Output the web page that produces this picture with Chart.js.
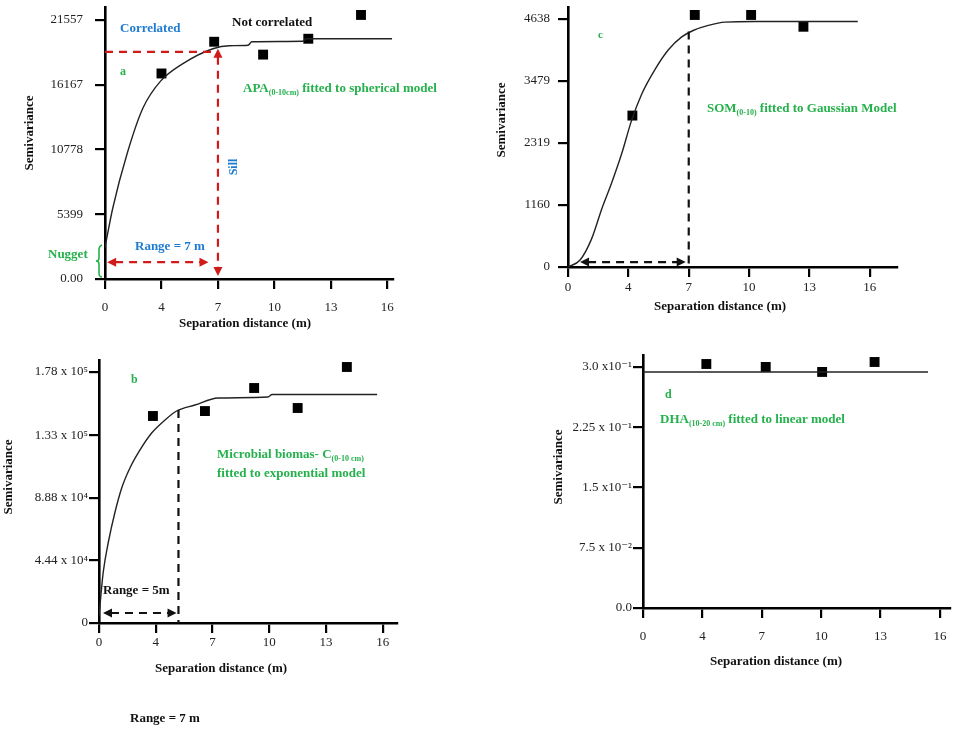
<!DOCTYPE html>
<html>
<head>
<meta charset="utf-8">
<script src="https://cdn.jsdelivr.net/npm/chart.js@4.4.1/dist/chart.umd.min.js"></script>
<style>
  body { margin: 0; background: #fff; width: 957px; height: 730px; position: relative; overflow: hidden; }
  canvas { position: absolute; }
</style>
</head>
<body>
<canvas id="panelA"></canvas>
<canvas id="panelC"></canvas>
<canvas id="panelB"></canvas>
<canvas id="panelD"></canvas>
<script>
// separation distance ticks (m) - evenly spaced on the axis in the original figure
const xTickLabels = [0, 4, 7, 10, 13, 16];

// a) APA (0-10cm), spherical model
const aPointsX = [4, 6.8, 9.4, 11.8, 14.6];
const aPointsY = [17100, 19740, 18670, 19990, 21970];
const aCurveX = [0, 0.56, 1.56, 2.68, 3.92, 5.14, 6.73, 7.6, 8.6, 8.8, 11.5, 11.7, 16.25];
const aCurveY = [2640, 5950, 10400, 14200, 16440, 17920, 19160, 19410, 19450, 19740, 19780, 19990, 19990];
const aTicks = [0, 5399, 10778, 16167, 21557];
const aTickLabels = ['0.00', '5399', '10778', '16167', '21557'];
const aSill = 18900, aRange = 7;

// c) SOM (0-10), gaussian model
const cPointsX = [4.2, 7.3, 10.1, 12.7];
const cPointsY = [2830, 4710, 4710, 4490];
const cCurveX = [0, 0.8, 1.57, 2.23, 2.89, 3.56, 4.16, 4.66, 5.32, 5.98, 6.65, 7.22, 7.97, 8.8, 10.3, 15.4];
const cCurveY = [0, 130, 530, 1080, 1570, 2120, 2740, 3230, 3690, 4055, 4300, 4420, 4515, 4577, 4588, 4588];
const cTicks = [0, 1160, 2319, 3479, 4638];
const cTickLabels = ['0', '1160', '2319', '3479', '4638'];
const cRange = 7;

// b) Microbial biomass C (0-10 cm), exponential model
const bPointsX = [3.8, 6.6, 9.2, 11.5, 14.1];
const bPointsY = [146800, 150300, 166650, 152470, 181550];
const bCurveX = [0, 0.3, 0.66, 1.13, 1.6, 2.18, 2.89, 3.71, 4.49, 5.1, 6.07, 7.29, 9.93, 10.15, 15.7];
const bCurveY = [5000, 36170, 57440, 78720, 95740, 109900, 122700, 134700, 143960, 150340, 154600, 159560, 160270, 162000, 162000];
const bTicks = [0, 44400, 88800, 133000, 178000];
const bTickLabels = ['0', '4.44 x 10\u2074', '8.88 x 10\u2074', '1.33 x 10\u2075', '1.78 x 10\u2075'];
const bRange = 5.2;

// d) DHA (10-20 cm), linear model
const dPointsX = [4.2, 7.2, 10.05, 12.7];
const dPointsY = [0.3037, 0.300, 0.2938, 0.3062];
const dCurveX = [0, 15.4];
const dCurveY = [0.2938, 0.2938];
const dTicks = [0, 0.075, 0.15, 0.225, 0.3];
const dTickLabels = ['0.0', '7.5 x 10\u207B\u00B2', '1.5 x10\u207B\u00B9', '2.25 x 10\u207B\u00B9', '3.0 x10\u207B\u00B9'];

const SERIF = '"Liberation Serif", "DejaVu Serif", serif';
const GREEN = '#25b14c', BLUE = '#1f7bd2', RED = '#d11a1a';

// metres -> position on the evenly spaced axis
function toAxis(m) {
  for (let i = 1; i < xTickLabels.length; i++) {
    if (m <= xTickLabels[i]) return i - 1 + (m - xTickLabels[i - 1]) / (xTickLabels[i] - xTickLabels[i - 1]);
  }
  const n = xTickLabels.length - 1;
  return n + (m - xTickLabels[n]) / (xTickLabels[n] - xTickLabels[n - 1]);
}

function pts(xs, ys) { return xs.map((x, i) => ({ x: toAxis(x), y: ys[i] })); }

function rich(ctx, x, y, parts, color, size) {
  ctx.fillStyle = color; ctx.textBaseline = 'middle'; ctx.textAlign = 'left';
  parts.forEach(p => {
    const sub = Array.isArray(p), t = sub ? p[0] : p;
    ctx.font = 'bold ' + (sub ? Math.round(size * 0.6) : size) + 'px ' + SERIF;
    ctx.fillText(t, x, y + (sub ? size * 0.32 : 0));
    x += ctx.measureText(t).width;
  });
}

function vtext(ctx, t, x, y, color, size) {
  ctx.save(); ctx.translate(x, y); ctx.rotate(-Math.PI / 2);
  ctx.fillStyle = color; ctx.font = 'bold ' + size + 'px ' + SERIF;
  ctx.textAlign = 'center'; ctx.textBaseline = 'middle';
  ctx.fillText(t, 0, 0); ctx.restore();
}

function ctext(ctx, t, x, y) {
  ctx.fillStyle = '#111'; ctx.font = 'bold 13px ' + SERIF;
  ctx.textAlign = 'center'; ctx.textBaseline = 'middle';
  ctx.fillText(t, x, y);
}

function dashed(ctx, x1, y1, x2, y2, color) {
  ctx.save(); ctx.strokeStyle = color; ctx.lineWidth = 2.2; ctx.setLineDash([8, 6]);
  ctx.beginPath(); ctx.moveTo(x1, y1); ctx.lineTo(x2, y2); ctx.stroke(); ctx.restore();
}

function arrow(ctx, x, y, dir, color) {
  const L = 9, W = 4.5;
  ctx.save(); ctx.fillStyle = color; ctx.beginPath();
  if (dir === 'left') { ctx.moveTo(x, y); ctx.lineTo(x + L, y - W); ctx.lineTo(x + L, y + W); }
  if (dir === 'right') { ctx.moveTo(x, y); ctx.lineTo(x - L, y - W); ctx.lineTo(x - L, y + W); }
  if (dir === 'up') { ctx.moveTo(x, y); ctx.lineTo(x - W, y + L); ctx.lineTo(x + W, y + L); }
  if (dir === 'down') { ctx.moveTo(x, y); ctx.lineTo(x - W, y - L); ctx.lineTo(x + W, y - L); }
  ctx.closePath(); ctx.fill(); ctx.restore();
}

function makePanel(cfg) {
  const { box, area } = cfg;
  const canvas = document.getElementById(cfg.id);
  canvas.width = box.w; canvas.height = box.h;
  canvas.style.left = box.x + 'px'; canvas.style.top = box.y + 'px';

  const axisGrid = { drawOnChartArea: false, drawTicks: true, tickLength: 10, color: '#000', lineWidth: 2.2 };
  const axisBorder = { display: true, color: '#000', width: 2.6 };
  const tickFont = { family: SERIF, size: 13 };

  return new Chart(canvas, {
    type: 'scatter',
    data: {
      datasets: [
        { data: pts(cfg.curveX, cfg.curveY), showLine: true, borderColor: '#222', borderWidth: 1.4,
          pointRadius: 0, cubicInterpolationMode: 'monotone', fill: false },
        { data: pts(cfg.pointsX, cfg.pointsY), pointStyle: 'rect', pointRadius: 7,
          backgroundColor: '#000', borderColor: '#000', borderWidth: 0, showLine: false }
      ]
    },
    options: {
      responsive: false,
      animation: false,
      devicePixelRatio: 1,
      layout: { padding: { top: area.t - box.y, right: box.x + box.w - area.r, left: 0, bottom: 0 } },
      plugins: { legend: { display: false }, tooltip: { enabled: false } },
      scales: {
        x: {
          type: 'linear', min: 0, max: cfg.xMax,
          afterBuildTicks: s => { s.ticks = xTickLabels.map((_, i) => ({ value: i })); },
          afterFit: s => { s.height = box.y + box.h - area.b; s.paddingLeft = 0; s.paddingRight = 0; },
          ticks: { callback: v => xTickLabels[v], font: tickFont, color: '#222', padding: cfg.xPad, maxRotation: 0, autoSkip: false },
          grid: axisGrid, border: axisBorder
        },
        y: {
          type: 'linear', min: 0, max: cfg.yMax,
          afterBuildTicks: s => { s.ticks = cfg.yTicks.map(v => ({ value: v })); },
          afterFit: s => { s.width = area.l - box.x; s.paddingTop = 0; s.paddingBottom = 0; },
          ticks: { callback: (v, i) => cfg.yTickLabels[i], font: tickFont, color: '#222', padding: cfg.yPad, autoSkip: false },
          grid: axisGrid, border: axisBorder
        }
      }
    },
    plugins: [{
      id: 'notes',
      afterDraw(chart) {
        const ctx = chart.ctx;
        const X = m => chart.scales.x.getPixelForValue(toAxis(m)) + box.x;
        const Y = v => chart.scales.y.getPixelForValue(v) + box.y;
        ctx.save(); ctx.translate(-box.x, -box.y);
        cfg.draw(ctx, X, Y);
        ctx.restore();
      }
    }]
  });
}

// a
makePanel({
  id: 'panelA', box: { x: 0, y: 0, w: 478, h: 335 }, area: { l: 105, t: 5, r: 393, b: 279 },
  xMax: 5.1, yMax: 22631, yTicks: aTicks, yTickLabels: aTickLabels, xPad: 11, yPad: 12,
  pointsX: aPointsX, pointsY: aPointsY, curveX: aCurveX, curveY: aCurveY,
  draw(ctx, X, Y) {
    dashed(ctx, X(0), Y(aSill), X(aRange - 0.15), Y(aSill), RED);
    dashed(ctx, X(aRange), Y(19160) + 8, X(aRange), Y(0) - 10, RED);
    arrow(ctx, X(aRange), Y(19160), 'up', RED);
    arrow(ctx, X(aRange), Y(0) - 3, 'down', RED);
    dashed(ctx, X(0.15) + 8, Y(1400), X(6.5) - 8, Y(1400), RED);
    arrow(ctx, X(0.15), Y(1400), 'left', RED);
    arrow(ctx, X(6.5), Y(1400), 'right', RED);
    rich(ctx, 120, 29, ['Correlated'], BLUE, 13);
    rich(ctx, 232, 23, ['Not correlated'], '#111', 13);
    rich(ctx, 120, 72, ['a'], GREEN, 12);
    rich(ctx, 243, 89, ['APA', ['(0-10cm)'], ' fitted to spherical model'], GREEN, 13);
    vtext(ctx, 'Sill', 234, 167, BLUE, 12);
    rich(ctx, 135, 247, ['Range = 7 m'], BLUE, 13);
    rich(ctx, 48, 255, ['Nugget'], GREEN, 13);
    ctx.save(); ctx.strokeStyle = GREEN; ctx.lineWidth = 1.6; ctx.beginPath();
    ctx.moveTo(102, 245); ctx.quadraticCurveTo(99, 246, 99, 250); ctx.lineTo(99, 258);
    ctx.quadraticCurveTo(99, 261, 96, 261); ctx.quadraticCurveTo(99, 261, 99, 264);
    ctx.lineTo(99, 273); ctx.quadraticCurveTo(99, 277, 102, 277); ctx.stroke(); ctx.restore();
    vtext(ctx, 'Semivariance', 30, 133, '#111', 13);
    ctext(ctx, 'Separation distance (m)', 245, 324);
  }
});

// c
makePanel({
  id: 'panelC', box: { x: 478, y: 0, w: 479, h: 335 }, area: { l: 568, t: 3, r: 897, b: 267 },
  xMax: 5.45, yMax: 4859, yTicks: cTicks, yTickLabels: cTickLabels, xPad: 3, yPad: 8,
  pointsX: cPointsX, pointsY: cPointsY, curveX: cCurveX, curveY: cCurveY,
  draw(ctx, X, Y) {
    dashed(ctx, X(cRange), Y(4400), X(cRange), Y(0), '#111');
    dashed(ctx, X(0.8) + 8, Y(92), X(6.85) - 8, Y(92), '#111');
    arrow(ctx, X(0.8), Y(92), 'left', '#111');
    arrow(ctx, X(6.85), Y(92), 'right', '#111');
    rich(ctx, 598, 35, ['c'], GREEN, 11);
    rich(ctx, 707, 109, ['SOM', ['(0-10)'], ' fitted to Gaussian Model'], GREEN, 13);
    vtext(ctx, 'Semivariance', 502, 120, '#111', 13);
    ctext(ctx, 'Separation distance (m)', 720, 307);
  }
});

// b
makePanel({
  id: 'panelB', box: { x: 0, y: 338, w: 478, h: 392 }, area: { l: 99, t: 360, r: 397, b: 623 },
  xMax: 5.25, yMax: 186510, yTicks: bTicks, yTickLabels: bTickLabels, xPad: 2, yPad: 1,
  pointsX: bPointsX, pointsY: bPointsY, curveX: bCurveX, curveY: bCurveY,
  draw(ctx, X, Y) {
    dashed(ctx, X(bRange), Y(151000), X(bRange), Y(0), '#111');
    dashed(ctx, X(0.28) + 8, Y(7090), X(5.1) - 8, Y(7090), '#111');
    arrow(ctx, X(0.28), Y(7090), 'left', '#111');
    arrow(ctx, X(5.1), Y(7090), 'right', '#111');
    rich(ctx, 131, 380, ['b'], GREEN, 12);
    rich(ctx, 217, 455, ['Microbial biomas- C', ['(0-10 cm)']], GREEN, 13);
    rich(ctx, 217, 474, ['fitted to exponential model'], GREEN, 13);
    rich(ctx, 103, 591, ['Range = 5m'], '#111', 13);
    vtext(ctx, 'Semivariance', 9, 477, '#111', 13);
    ctext(ctx, 'Separation distance (m)', 221, 669);
    rich(ctx, 130, 719, ['Range = 7 m'], '#111', 13);
  }
});

// d
makePanel({
  id: 'panelD', box: { x: 478, y: 338, w: 479, h: 392 }, area: { l: 643, t: 355, r: 953, b: 608 },
  xMax: 5.17, yMax: 0.3149, yTicks: dTicks, yTickLabels: dTickLabels, xPad: 11, yPad: 1,
  pointsX: dPointsX, pointsY: dPointsY, curveX: dCurveX, curveY: dCurveY,
  draw(ctx, X, Y) {
    rich(ctx, 665, 395, ['d'], GREEN, 12);
    rich(ctx, 660, 420, ['DHA', ['(10-20 cm)'], ' fitted to linear model'], GREEN, 13);
    vtext(ctx, 'Semivariance', 559, 467, '#111', 13);
    ctext(ctx, 'Separation distance (m)', 776, 662);
  }
});
</script>
</body>
</html>
